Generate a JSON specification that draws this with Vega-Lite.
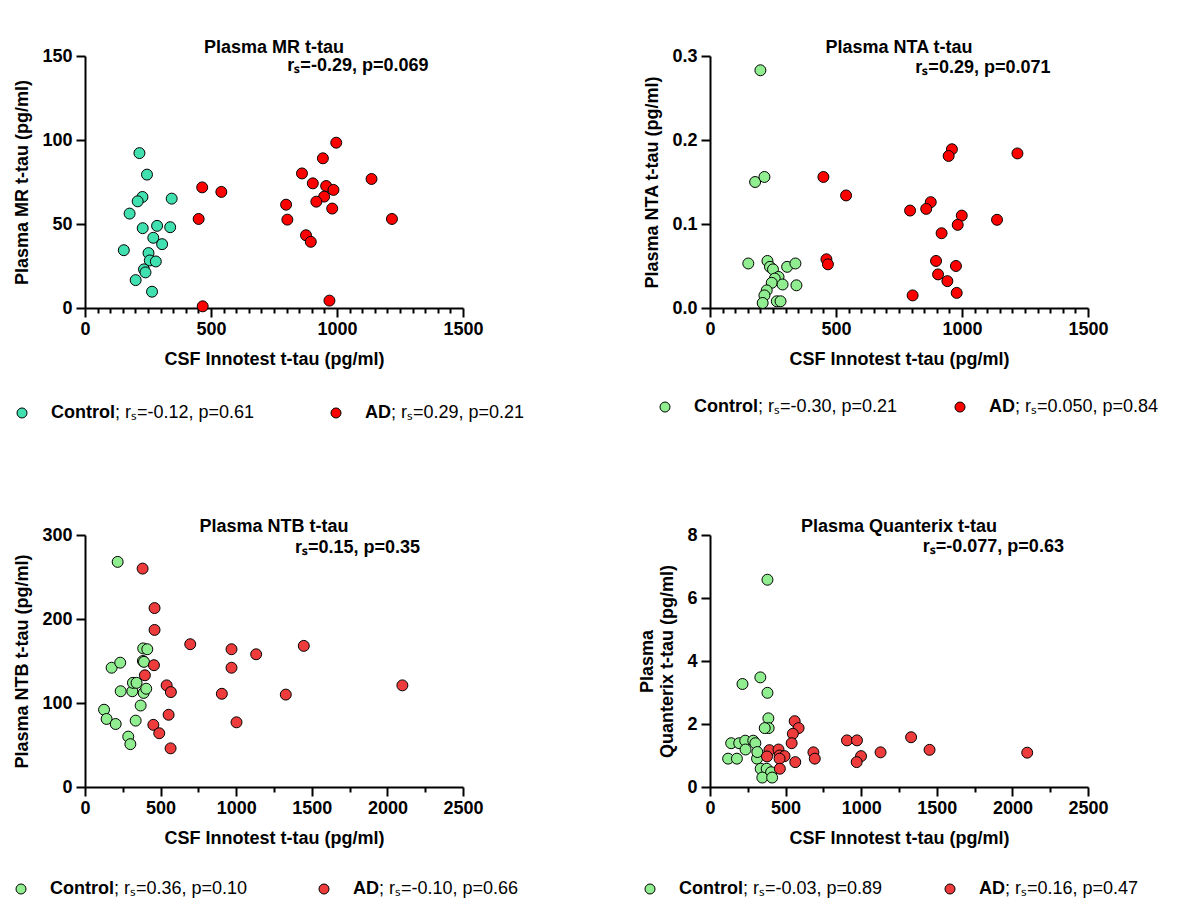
{
  "$schema": "https://vega.github.io/schema/vega-lite/v6.json",
  "background": "white",
  "padding": {"left": 13, "top": 39, "right": 5, "bottom": 2},
  "columns": 2,
  "spacing": {"row": 21, "column": 113},
  "resolve": {"scale": {"fill": "independent"}},
  "concat": [
    {
      "title": "Plasma MR t-tau",
      "width": 378, "height": 252,
      "layer": [
        {
          "data": {"values": [
            {"group":"Control","csf":216,"val":92.2},{"group":"Control","csf":246,"val":79.4},{"group":"Control","csf":228,"val":66.1},{"group":"Control","csf":209,"val":63.5},{"group":"Control","csf":177,"val":56.2},{"group":"Control","csf":344,"val":65.1},{"group":"Control","csf":229,"val":47.5},{"group":"Control","csf":286,"val":48.9},{"group":"Control","csf":338,"val":48.1},{"group":"Control","csf":271,"val":41.8},{"group":"Control","csf":306,"val":38.0},{"group":"Control","csf":154,"val":34.4},{"group":"Control","csf":252,"val":32.7},{"group":"Control","csf":257,"val":28.3},{"group":"Control","csf":281,"val":27.7},{"group":"Control","csf":234,"val":23.0},{"group":"Control","csf":240,"val":21.2},{"group":"Control","csf":201,"val":16.6},{"group":"Control","csf":266,"val":9.7},
            {"group":"AD","csf":997,"val":98.4},{"group":"AD","csf":944,"val":89.1},{"group":"AD","csf":861,"val":80.1},{"group":"AD","csf":1137,"val":76.8},{"group":"AD","csf":465,"val":71.8},{"group":"AD","csf":541,"val":69.1},{"group":"AD","csf":904,"val":74.2},{"group":"AD","csf":957,"val":72.6},{"group":"AD","csf":986,"val":70.3},{"group":"AD","csf":949,"val":66.3},{"group":"AD","csf":918,"val":63.3},{"group":"AD","csf":798,"val":61.5},{"group":"AD","csf":981,"val":59.2},{"group":"AD","csf":451,"val":53.0},{"group":"AD","csf":803,"val":52.6},{"group":"AD","csf":1218,"val":53.0},{"group":"AD","csf":877,"val":43.3},{"group":"AD","csf":896,"val":39.4},{"group":"AD","csf":970,"val":4.4},{"group":"AD","csf":467,"val":1.0}
          ]},
          "mark": {"type": "circle", "size": 120, "stroke": "black", "strokeWidth": 1, "opacity": 1},
          "encoding": {
            "x": {"field": "csf", "type": "quantitative", "scale": {"domain": [0, 1500], "nice": false},
                  "axis": {"title": "CSF Innotest t-tau (pg/ml)", "format": "d", "tickCount": 100,
                           "values": [0,50,100,150,200,250,300,350,400,450,500,550,600,650,700,750,800,850,900,950,1000,1050,1100,1150,1200,1250,1300,1350,1400,1450,1500],
                           "labelExpr": "datum.value % 500 === 0 ? datum.label : ''",
                           "tickSize": {"condition": {"test": "datum.value % 500 === 0", "value": 9}, "value": 5}}},
            "y": {"field": "val", "type": "quantitative", "scale": {"domain": [0, 150], "nice": false},
                  "axis": {"title": "Plasma MR t-tau (pg/ml)", "values": [0, 50, 100, 150], "format": "d", "tickCount": 100}},
            "fill": {"field": "group", "type": "nominal", "scale": {"domain": ["Control", "AD"], "range": ["#40E0B0", "#FF0000"]}, "legend": null}
          }
        },
        {
          "data": {"values": [{}]},
          "mark": {"type": "text", "fontSize": 18, "fontWeight": "bold", "color": "black", "align": "center", "baseline": "middle"},
          "encoding": {"x": {"datum": 1083, "type": "quantitative"}, "y": {"datum": 144, "type": "quantitative"}, "text": {"value": "rₛ=-0.29, p=0.069"}}
        }
      ]
    },
    {
      "title": "Plasma NTA t-tau",
      "width": 378, "height": 252,
      "layer": [
        {
          "data": {"values": [
            {"group":"Control","csf":200,"val":0.283},{"group":"Control","csf":179,"val":0.150},{"group":"Control","csf":216,"val":0.156},{"group":"Control","csf":152,"val":0.053},{"group":"Control","csf":228,"val":0.056},{"group":"Control","csf":238,"val":0.049},{"group":"Control","csf":250,"val":0.046},{"group":"Control","csf":272,"val":0.037},{"group":"Control","csf":257,"val":0.035},{"group":"Control","csf":245,"val":0.030},{"group":"Control","csf":306,"val":0.049},{"group":"Control","csf":339,"val":0.053},{"group":"Control","csf":288,"val":0.028},{"group":"Control","csf":343,"val":0.027},{"group":"Control","csf":225,"val":0.021},{"group":"Control","csf":216,"val":0.015},{"group":"Control","csf":209,"val":0.006},{"group":"Control","csf":265,"val":0.008},{"group":"Control","csf":280,"val":0.008},
            {"group":"AD","csf":960,"val":0.189},{"group":"AD","csf":947,"val":0.181},{"group":"AD","csf":1220,"val":0.184},{"group":"AD","csf":450,"val":0.156},{"group":"AD","csf":540,"val":0.134},{"group":"AD","csf":794,"val":0.116},{"group":"AD","csf":876,"val":0.126},{"group":"AD","csf":858,"val":0.118},{"group":"AD","csf":999,"val":0.110},{"group":"AD","csf":1139,"val":0.105},{"group":"AD","csf":983,"val":0.099},{"group":"AD","csf":919,"val":0.089},{"group":"AD","csf":462,"val":0.058},{"group":"AD","csf":468,"val":0.052},{"group":"AD","csf":897,"val":0.056},{"group":"AD","csf":976,"val":0.050},{"group":"AD","csf":905,"val":0.040},{"group":"AD","csf":942,"val":0.032},{"group":"AD","csf":979,"val":0.018},{"group":"AD","csf":804,"val":0.015}
          ]},
          "mark": {"type": "circle", "size": 120, "stroke": "black", "strokeWidth": 1, "opacity": 1},
          "encoding": {
            "x": {"field": "csf", "type": "quantitative", "scale": {"domain": [0, 1500], "nice": false},
                  "axis": {"title": "CSF Innotest t-tau (pg/ml)", "format": "d", "tickCount": 100,
                           "values": [0,50,100,150,200,250,300,350,400,450,500,550,600,650,700,750,800,850,900,950,1000,1050,1100,1150,1200,1250,1300,1350,1400,1450,1500],
                           "labelExpr": "datum.value % 500 === 0 ? datum.label : ''",
                           "tickSize": {"condition": {"test": "datum.value % 500 === 0", "value": 9}, "value": 5}}},
            "y": {"field": "val", "type": "quantitative", "scale": {"domain": [0, 0.3], "nice": false},
                  "axis": {"title": "Plasma  NTA t-tau (pg/ml)", "values": [0, 0.1, 0.2, 0.3], "format": ".1f", "tickCount": 100}},
            "fill": {"field": "group", "type": "nominal", "scale": {"domain": ["Control", "AD"], "range": ["#90EE90", "#FF0000"]}, "legend": null}
          }
        },
        {
          "data": {"values": [{}]},
          "mark": {"type": "text", "fontSize": 18, "fontWeight": "bold", "color": "black", "align": "center", "baseline": "middle"},
          "encoding": {"x": {"datum": 1083, "type": "quantitative"}, "y": {"datum": 0.2857, "type": "quantitative"}, "text": {"value": "rₛ=0.29, p=0.071"}}
        }
      ]
    },
    {
      "width": 378, "height": 108,
      "data": {"values": [
        {"group": "Control", "name": "Control", "stats": "; rₛ=-0.12, p=0.61"},
        {"group": "AD", "name": "AD", "stats": "; rₛ=0.29, p=0.21"}
      ]},
      "encoding": {
        "x": {"field": "group", "type": "nominal", "scale": {"type": "point", "padding": 0, "domain": ["Control", "AD"], "range": [-63, 251]}, "axis": null},
        "y": {"datum": 0.778, "type": "quantitative", "scale": {"domain": [0, 1]}, "axis": null}
      },
      "layer": [
        {"mark": {"type": "circle", "size": 100, "stroke": "black", "strokeWidth": 1, "opacity": 1},
         "encoding": {"fill": {"field": "group", "type": "nominal", "scale": {"domain": ["Control", "AD"], "range": ["#40E0B0", "#FF0000"]}, "legend": null}}},
        {"mark": {"type": "text", "align": "left", "baseline": "middle", "dx": 29, "fontSize": 18, "fontWeight": "bold", "color": "black"},
         "encoding": {"text": {"field": "name"}}},
        {"transform": [{"filter": "datum.group === 'Control'"}],
         "mark": {"type": "text", "align": "left", "baseline": "middle", "dx": 93, "fontSize": 18, "fontWeight": "normal", "color": "black"},
         "encoding": {"text": {"field": "stats"}}},
        {"transform": [{"filter": "datum.group === 'AD'"}],
         "mark": {"type": "text", "align": "left", "baseline": "middle", "dx": 55, "fontSize": 18, "fontWeight": "normal", "color": "black"},
         "encoding": {"text": {"field": "stats"}}}
      ]
    },
    {
      "width": 378, "height": 108,
      "data": {"values": [
        {"group": "Control", "name": "Control", "stats": "; rₛ=-0.30, p=0.21"},
        {"group": "AD", "name": "AD", "stats": "; rₛ=0.050, p=0.84"}
      ]},
      "encoding": {
        "x": {"field": "group", "type": "nominal", "scale": {"type": "point", "padding": 0, "domain": ["Control", "AD"], "range": [-45, 250]}, "axis": null},
        "y": {"datum": 0.833, "type": "quantitative", "scale": {"domain": [0, 1]}, "axis": null}
      },
      "layer": [
        {"mark": {"type": "circle", "size": 100, "stroke": "black", "strokeWidth": 1, "opacity": 1},
         "encoding": {"fill": {"field": "group", "type": "nominal", "scale": {"domain": ["Control", "AD"], "range": ["#90EE90", "#FF0000"]}, "legend": null}}},
        {"mark": {"type": "text", "align": "left", "baseline": "middle", "dx": 29, "fontSize": 18, "fontWeight": "bold", "color": "black"},
         "encoding": {"text": {"field": "name"}}},
        {"transform": [{"filter": "datum.group === 'Control'"}],
         "mark": {"type": "text", "align": "left", "baseline": "middle", "dx": 93, "fontSize": 18, "fontWeight": "normal", "color": "black"},
         "encoding": {"text": {"field": "stats"}}},
        {"transform": [{"filter": "datum.group === 'AD'"}],
         "mark": {"type": "text", "align": "left", "baseline": "middle", "dx": 55, "fontSize": 18, "fontWeight": "normal", "color": "black"},
         "encoding": {"text": {"field": "stats"}}}
      ]
    },
    {
      "title": "Plasma NTB t-tau",
      "width": 378, "height": 252,
      "layer": [
        {
          "data": {"values": [
            {"group":"Control","csf":216,"val":268},{"group":"Control","csf":176,"val":142},{"group":"Control","csf":233,"val":148},{"group":"Control","csf":236,"val":114},{"group":"Control","csf":126,"val":92},{"group":"Control","csf":143,"val":81},{"group":"Control","csf":203,"val":75},{"group":"Control","csf":286,"val":60},{"group":"Control","csf":300,"val":51},{"group":"Control","csf":335,"val":79},{"group":"Control","csf":368,"val":97},{"group":"Control","csf":313,"val":114},{"group":"Control","csf":317,"val":124},{"group":"Control","csf":341,"val":124},{"group":"Control","csf":385,"val":165},{"group":"Control","csf":412,"val":164},{"group":"Control","csf":383,"val":150},{"group":"Control","csf":390,"val":149},{"group":"Control","csf":388,"val":112},{"group":"Control","csf":405,"val":117},
            {"group":"AD","csf":381,"val":260},{"group":"AD","csf":460,"val":213},{"group":"AD","csf":460,"val":187},{"group":"AD","csf":456,"val":145},{"group":"AD","csf":396,"val":133},{"group":"AD","csf":696,"val":170},{"group":"AD","csf":969,"val":164},{"group":"AD","csf":969,"val":142},{"group":"AD","csf":1132,"val":158},{"group":"AD","csf":1447,"val":168},{"group":"AD","csf":2099,"val":121},{"group":"AD","csf":540,"val":121},{"group":"AD","csf":568,"val":113},{"group":"AD","csf":905,"val":111},{"group":"AD","csf":1328,"val":110},{"group":"AD","csf":553,"val":86},{"group":"AD","csf":1002,"val":77},{"group":"AD","csf":452,"val":74},{"group":"AD","csf":491,"val":64},{"group":"AD","csf":566,"val":46}
          ]},
          "mark": {"type": "circle", "size": 120, "stroke": "black", "strokeWidth": 1, "opacity": 1},
          "encoding": {
            "x": {"field": "csf", "type": "quantitative", "scale": {"domain": [0, 2500], "nice": false},
                  "axis": {"title": "CSF Innotest t-tau (pg/ml)", "format": "d", "tickCount": 100,
                           "values": [0,250,500,750,1000,1250,1500,1750,2000,2250,2500],
                           "labelExpr": "datum.value % 500 === 0 ? datum.label : ''",
                           "tickSize": {"condition": {"test": "datum.value % 500 === 0", "value": 9}, "value": 5}}},
            "y": {"field": "val", "type": "quantitative", "scale": {"domain": [0, 300], "nice": false},
                  "axis": {"title": "Plasma  NTB t-tau (pg/ml)", "values": [0, 100, 200, 300], "format": "d", "tickCount": 100}},
            "fill": {"field": "group", "type": "nominal", "scale": {"domain": ["Control", "AD"], "range": ["#90EE90", "#EE3B3B"]}, "legend": null}
          }
        },
        {
          "data": {"values": [{}]},
          "mark": {"type": "text", "fontSize": 18, "fontWeight": "bold", "color": "black", "align": "center", "baseline": "middle"},
          "encoding": {"x": {"datum": 1802, "type": "quantitative"}, "y": {"datum": 285, "type": "quantitative"}, "text": {"value": "rₛ=0.15, p=0.35"}}
        }
      ]
    },
    {
      "title": "Plasma Quanterix t-tau",
      "width": 378, "height": 252,
      "layer": [
        {
          "data": {"values": [
            {"group":"Control","csf":380,"val":6.58},{"group":"Control","csf":333,"val":3.48},{"group":"Control","csf":215,"val":3.27},{"group":"Control","csf":380,"val":2.99},{"group":"Control","csf":386,"val":2.18},{"group":"Control","csf":388,"val":1.87},{"group":"Control","csf":362,"val":1.87},{"group":"Control","csf":140,"val":1.39},{"group":"Control","csf":193,"val":1.39},{"group":"Control","csf":233,"val":1.47},{"group":"Control","csf":286,"val":1.47},{"group":"Control","csf":300,"val":1.39},{"group":"Control","csf":235,"val":1.19},{"group":"Control","csf":120,"val":0.90},{"group":"Control","csf":178,"val":0.90},{"group":"Control","csf":311,"val":0.90},{"group":"Control","csf":313,"val":1.11},{"group":"Control","csf":335,"val":0.58},{"group":"Control","csf":375,"val":0.58},{"group":"Control","csf":404,"val":0.47},{"group":"Control","csf":346,"val":0.30},{"group":"Control","csf":411,"val":0.30},
            {"group":"AD","csf":560,"val":2.09},{"group":"AD","csf":586,"val":1.87},{"group":"AD","csf":548,"val":1.69},{"group":"AD","csf":540,"val":1.39},{"group":"AD","csf":393,"val":1.17},{"group":"AD","csf":377,"val":0.97},{"group":"AD","csf":453,"val":1.19},{"group":"AD","csf":460,"val":1.00},{"group":"AD","csf":493,"val":0.98},{"group":"AD","csf":460,"val":0.90},{"group":"AD","csf":462,"val":0.58},{"group":"AD","csf":564,"val":0.79},{"group":"AD","csf":684,"val":1.10},{"group":"AD","csf":693,"val":0.90},{"group":"AD","csf":906,"val":1.48},{"group":"AD","csf":972,"val":1.48},{"group":"AD","csf":1330,"val":1.58},{"group":"AD","csf":1452,"val":1.18},{"group":"AD","csf":2098,"val":1.09},{"group":"AD","csf":1128,"val":1.10},{"group":"AD","csf":999,"val":0.98},{"group":"AD","csf":970,"val":0.79}
          ]},
          "mark": {"type": "circle", "size": 120, "stroke": "black", "strokeWidth": 1, "opacity": 1},
          "encoding": {
            "x": {"field": "csf", "type": "quantitative", "scale": {"domain": [0, 2500], "nice": false},
                  "axis": {"title": "CSF Innotest t-tau (pg/ml)", "format": "d", "tickCount": 100,
                           "values": [0,250,500,750,1000,1250,1500,1750,2000,2250,2500],
                           "labelExpr": "datum.value % 500 === 0 ? datum.label : ''",
                           "tickSize": {"condition": {"test": "datum.value % 500 === 0", "value": 9}, "value": 5}}},
            "y": {"field": "val", "type": "quantitative", "scale": {"domain": [0, 8], "nice": false},
                  "axis": {"title": ["Plasma", "Quanterix t-tau (pg/ml)"], "values": [0, 2, 4, 6, 8], "format": "d", "tickCount": 100}},
            "fill": {"field": "group", "type": "nominal", "scale": {"domain": ["Control", "AD"], "range": ["#90EE90", "#EE3B3B"]}, "legend": null}
          }
        },
        {
          "data": {"values": [{}]},
          "mark": {"type": "text", "fontSize": 18, "fontWeight": "bold", "color": "black", "align": "center", "baseline": "middle"},
          "encoding": {"x": {"datum": 1874, "type": "quantitative"}, "y": {"datum": 7.62, "type": "quantitative"}, "text": {"value": "rₛ=-0.077, p=0.63"}}
        }
      ]
    },
    {
      "width": 378, "height": 28,
      "data": {"values": [
        {"group": "Control", "name": "Control", "stats": "; rₛ=0.36, p=0.10"},
        {"group": "AD", "name": "AD", "stats": "; rₛ=-0.10, p=0.66"}
      ]},
      "encoding": {
        "x": {"field": "group", "type": "nominal", "scale": {"type": "point", "padding": 0, "domain": ["Control", "AD"], "range": [-64, 239]}, "axis": null},
        "y": {"datum": 0.25, "type": "quantitative", "scale": {"domain": [0, 1]}, "axis": null}
      },
      "layer": [
        {"mark": {"type": "circle", "size": 100, "stroke": "black", "strokeWidth": 1, "opacity": 1},
         "encoding": {"fill": {"field": "group", "type": "nominal", "scale": {"domain": ["Control", "AD"], "range": ["#90EE90", "#EE3B3B"]}, "legend": null}}},
        {"mark": {"type": "text", "align": "left", "baseline": "middle", "dx": 29, "fontSize": 18, "fontWeight": "bold", "color": "black"},
         "encoding": {"text": {"field": "name"}}},
        {"transform": [{"filter": "datum.group === 'Control'"}],
         "mark": {"type": "text", "align": "left", "baseline": "middle", "dx": 93, "fontSize": 18, "fontWeight": "normal", "color": "black"},
         "encoding": {"text": {"field": "stats"}}},
        {"transform": [{"filter": "datum.group === 'AD'"}],
         "mark": {"type": "text", "align": "left", "baseline": "middle", "dx": 55, "fontSize": 18, "fontWeight": "normal", "color": "black"},
         "encoding": {"text": {"field": "stats"}}}
      ]
    },
    {
      "width": 378, "height": 28,
      "data": {"values": [
        {"group": "Control", "name": "Control", "stats": "; rₛ=-0.03, p=0.89"},
        {"group": "AD", "name": "AD", "stats": "; rₛ=0.16, p=0.47"}
      ]},
      "encoding": {
        "x": {"field": "group", "type": "nominal", "scale": {"type": "point", "padding": 0, "domain": ["Control", "AD"], "range": [-60, 240]}, "axis": null},
        "y": {"datum": 0.25, "type": "quantitative", "scale": {"domain": [0, 1]}, "axis": null}
      },
      "layer": [
        {"mark": {"type": "circle", "size": 100, "stroke": "black", "strokeWidth": 1, "opacity": 1},
         "encoding": {"fill": {"field": "group", "type": "nominal", "scale": {"domain": ["Control", "AD"], "range": ["#90EE90", "#EE3B3B"]}, "legend": null}}},
        {"mark": {"type": "text", "align": "left", "baseline": "middle", "dx": 29, "fontSize": 18, "fontWeight": "bold", "color": "black"},
         "encoding": {"text": {"field": "name"}}},
        {"transform": [{"filter": "datum.group === 'Control'"}],
         "mark": {"type": "text", "align": "left", "baseline": "middle", "dx": 93, "fontSize": 18, "fontWeight": "normal", "color": "black"},
         "encoding": {"text": {"field": "stats"}}},
        {"transform": [{"filter": "datum.group === 'AD'"}],
         "mark": {"type": "text", "align": "left", "baseline": "middle", "dx": 55, "fontSize": 18, "fontWeight": "normal", "color": "black"},
         "encoding": {"text": {"field": "stats"}}}
      ]
    }
  ],
  "config": {
    "view": {"stroke": null},
    "font": "Liberation Sans",
    "axis": {
      "domainColor": "black", "domainWidth": 2, "tickColor": "black", "tickWidth": 2, "tickSize": 9,
      "labelFontSize": 18, "labelFontWeight": "bold", "labelColor": "black", "labelPadding": 3,
      "titleFontSize": 18, "titleFontWeight": "bold", "titleColor": "black",
      "grid": false, "labelOverlap": false, "labelFlush": false
    },
    "axisY": {"titlePadding": 10, "labelPadding": 4},
    "axisX": {"titlePadding": 12},
    "title": {"fontSize": 18, "fontWeight": "bold", "color": "black", "offset": -10, "anchor": "middle", "frame": "group"}
  }
}
